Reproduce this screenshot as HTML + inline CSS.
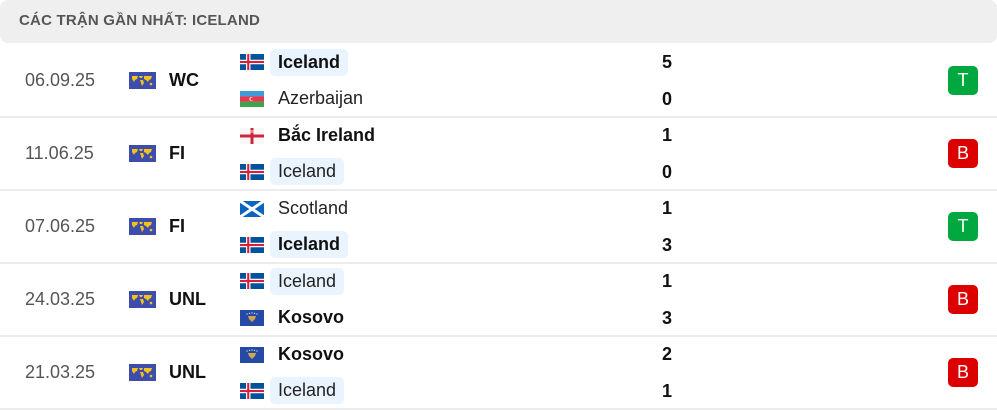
<!DOCTYPE html>
<html><head><meta charset="utf-8"><style>
*{margin:0;padding:0;box-sizing:border-box}
body{width:997px;height:410px;background:#fff;font-family:"Liberation Sans",sans-serif;position:relative;overflow:hidden;color:#111}
.hdr{position:absolute;left:0;top:0;width:997px;height:43px;background:#efefef;border-radius:8px;}
.hdr span{position:absolute;left:19px;top:12px;font-size:15px;font-weight:bold;color:#555;letter-spacing:0.2px}
.sep{position:absolute;left:0;width:997px;height:2px;background:#ececec}
.a{position:absolute;white-space:nowrap}
.date{font-size:18px;color:#555}
.comp{font-size:18px;font-weight:bold;color:#111}
.tn{font-size:18px;color:#222;line-height:27px;padding:0 8px;border-radius:5px}
.tn.b{font-weight:bold;color:#111}
.hl{background:#eaf4ff}
.sc{font-size:18px;font-weight:bold;width:20px;text-align:center}
.badge{width:30px;height:29px;border-radius:5px;color:#fff;font-size:18px;text-align:center;line-height:29px}
.T{background:#00a83f}.B{background:#dc0000}
.flag{position:absolute;width:24px;height:16px;overflow:hidden}
</style></head><body>
<div class="hdr"><span>CÁC TRẬN GẦN NHẤT: ICELAND</span></div>

<svg width="0" height="0" style="position:absolute">
<defs>
<symbol id="is" viewBox="0 0 24 16"><rect width="24" height="16" fill="#02529c"/><rect x="6" width="4.5" height="16" fill="#fff"/><rect y="5.75" width="24" height="4.5" fill="#fff"/><rect x="7.2" width="2.1" height="16" fill="#dc1e35"/><rect y="6.95" width="24" height="2.1" fill="#dc1e35"/></symbol>
<symbol id="az" viewBox="0 0 24 16"><rect width="24" height="5.4" fill="#3f9cdb"/><rect y="5.3" width="24" height="5.4" fill="#e8364e"/><rect y="10.6" width="24" height="5.4" fill="#3fa34d"/><circle cx="11.5" cy="8" r="2" fill="#fff"/><circle cx="12" cy="8" r="1.6" fill="#e8364e"/></symbol>
<symbol id="ni" viewBox="0 0 24 16"><rect width="24" height="16" fill="#f7f7f7"/><rect x="10.5" width="3" height="16" fill="#d0243a"/><rect y="6.5" width="24" height="3" fill="#d0243a"/><rect x="10.5" y="2" width="3" height="3" fill="#d88"/></symbol>
<symbol id="sc" viewBox="0 0 24 16"><rect width="24" height="16" fill="#0a65c0"/><path d="M0 0L24 16M24 0L0 16" stroke="#fff" stroke-width="3"/></symbol>
<symbol id="ks" viewBox="0 0 24 16"><rect width="24" height="16" fill="#244aa5"/><path d="M8 6h8l-1 3-3 3-2-2-1-1z" fill="#d0a650"/><g fill="#fff"><circle cx="7" cy="4" r=".6"/><circle cx="9.5" cy="3.3" r=".6"/><circle cx="12" cy="3" r=".6"/><circle cx="14.5" cy="3.3" r=".6"/><circle cx="17" cy="4" r=".6"/></g></symbol>
<symbol id="w" viewBox="0 0 27 17"><rect width="27" height="17" fill="#3e4dab"/><g fill="#f3c21b"><path d="M3 4h6l-1 3-2 1-1 2-2-3z"/><path d="M10 4h4l-1 2h-2z"/><path d="M11 8h3l1 3-2 3-1-3z"/><path d="M15 4h8l-1 3-2 1-1 2-2-2-2-1z"/><circle cx="22" cy="12" r="1.3"/></g></symbol>
</defs></svg>

<!-- rows -->
<div id="rows"></div>

<!-- Row 1 -->
<div class="a date" style="left:25px;top:70px">06.09.25</div>
<svg class="a" style="left:129px;top:72px" width="27" height="17"><use href="#w"/></svg>
<div class="a comp" style="left:169px;top:70px">WC</div>
<svg class="flag" style="left:240px;top:54px"><use href="#is"/></svg>
<div class="a tn b hl" style="left:270px;top:49px">Iceland</div>
<svg class="flag" style="left:240px;top:91px"><use href="#az"/></svg>
<div class="a tn" style="left:270px;top:85px">Azerbaijan</div>
<div class="a sc" style="left:657px;top:52px">5</div>
<div class="a sc" style="left:657px;top:89px">0</div>
<div class="a badge T" style="left:948px;top:66px">T</div>
<div class="sep" style="top:116px"></div>

<!-- Row 2 -->
<div class="a date" style="left:25px;top:143px">11.06.25</div>
<svg class="a" style="left:129px;top:145px" width="27" height="17"><use href="#w"/></svg>
<div class="a comp" style="left:169px;top:143px">FI</div>
<svg class="flag" style="left:240px;top:128px"><use href="#ni"/></svg>
<div class="a tn b" style="left:270px;top:122px">Bắc Ireland</div>
<svg class="flag" style="left:240px;top:164px"><use href="#is"/></svg>
<div class="a tn hl" style="left:270px;top:158px">Iceland</div>
<div class="a sc" style="left:657px;top:125px">1</div>
<div class="a sc" style="left:657px;top:162px">0</div>
<div class="a badge B" style="left:948px;top:139px">B</div>
<div class="sep" style="top:189px"></div>

<!-- Row 3 -->
<div class="a date" style="left:25px;top:216px">07.06.25</div>
<svg class="a" style="left:129px;top:218px" width="27" height="17"><use href="#w"/></svg>
<div class="a comp" style="left:169px;top:216px">FI</div>
<svg class="flag" style="left:240px;top:201px"><use href="#sc"/></svg>
<div class="a tn" style="left:270px;top:195px">Scotland</div>
<svg class="flag" style="left:240px;top:237px"><use href="#is"/></svg>
<div class="a tn b hl" style="left:270px;top:231px">Iceland</div>
<div class="a sc" style="left:657px;top:198px">1</div>
<div class="a sc" style="left:657px;top:235px">3</div>
<div class="a badge T" style="left:948px;top:212px">T</div>
<div class="sep" style="top:262px"></div>

<!-- Row 4 -->
<div class="a date" style="left:25px;top:289px">24.03.25</div>
<svg class="a" style="left:129px;top:291px" width="27" height="17"><use href="#w"/></svg>
<div class="a comp" style="left:169px;top:289px">UNL</div>
<svg class="flag" style="left:240px;top:273px"><use href="#is"/></svg>
<div class="a tn hl" style="left:270px;top:268px">Iceland</div>
<svg class="flag" style="left:240px;top:310px"><use href="#ks"/></svg>
<div class="a tn b" style="left:270px;top:304px">Kosovo</div>
<div class="a sc" style="left:657px;top:271px">1</div>
<div class="a sc" style="left:657px;top:308px">3</div>
<div class="a badge B" style="left:948px;top:285px">B</div>
<div class="sep" style="top:335px"></div>

<!-- Row 5 -->
<div class="a date" style="left:25px;top:362px">21.03.25</div>
<svg class="a" style="left:129px;top:364px" width="27" height="17"><use href="#w"/></svg>
<div class="a comp" style="left:169px;top:362px">UNL</div>
<svg class="flag" style="left:240px;top:347px"><use href="#ks"/></svg>
<div class="a tn b" style="left:270px;top:341px">Kosovo</div>
<svg class="flag" style="left:240px;top:383px"><use href="#is"/></svg>
<div class="a tn hl" style="left:270px;top:377px">Iceland</div>
<div class="a sc" style="left:657px;top:344px">2</div>
<div class="a sc" style="left:657px;top:381px">1</div>
<div class="a badge B" style="left:948px;top:358px">B</div>
<div class="sep" style="top:408px"></div>
</body></html>
